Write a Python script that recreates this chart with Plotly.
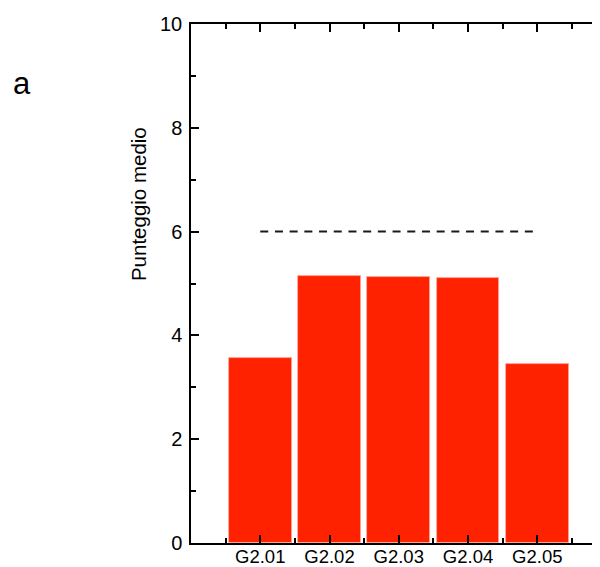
import plotly.graph_objects as go

categories = ["G2.01", "G2.02", "G2.03", "G2.04", "G2.05"]
positions = [1, 2, 3, 4, 5]
scores = [3.56, 5.14, 5.12, 5.11, 3.44]
reference_x = [1, 5]
reference_y = [6, 6]
y_ticks = [0, 2, 4, 6, 8, 10]

FONT = "Liberation Sans, Arial, Helvetica, sans-serif"
RED = "#ff2200"

fig = go.Figure()
fig.add_trace(go.Bar(
    x=positions, y=scores, width=0.905,
    marker=dict(color=RED, line=dict(width=0.8, color="rgba(255,170,160,1)")),
    showlegend=False, hoverinfo="skip",
))
fig.add_trace(go.Scatter(
    x=reference_x, y=reference_y, mode="lines", yaxis="y2",
    line=dict(color="#1a1a1a", width=2, dash="8px,6.7px"),
    showlegend=False, hoverinfo="skip",
))

# the page body has an 8px default margin, so the figure is sized to end at the window edge
fig.update_layout(
    width=592, height=559,
    margin=dict(l=183, r=0, t=16, b=24, autoexpand=False),
    paper_bgcolor="white", plot_bgcolor="white",
    font=dict(family=FONT, size=20, color="black"),
    bargap=0,
    xaxis=dict(
        range=[0, 5.906], tickmode="array", tickvals=positions, ticktext=categories,
        ticks="inside", ticklen=8, tickwidth=1.5, tickcolor="black",
        showline=True, linewidth=1.5, linecolor="black", mirror="ticks",
        showgrid=False, zeroline=False, ticklabelstandoff=-4, automargin=False,
        minor=dict(tickmode="array", tickvals=[0.5, 1.5, 2.5, 3.5, 4.5, 5.5],
                   ticks="inside", ticklen=5, tickwidth=1.5, tickcolor="black"),
        tickfont=dict(size=18.5),
    ),
    yaxis=dict(
        range=[0, 10], tickmode="array", tickvals=y_ticks,
        ticks="inside", ticklen=8, tickwidth=1.5, tickcolor="black",
        showline=True, linewidth=1.5, linecolor="black",
        showgrid=False, zeroline=False, ticklabelstandoff=3, automargin=False,
        minor=dict(dtick=1, ticks="inside", ticklen=5, tickwidth=1.5, tickcolor="black"),
        tickfont=dict(size=20),
    ),
    yaxis2=dict(
        range=[0, 10], overlaying="y", side="right", anchor="free", position=1,
        tickmode="array", tickvals=y_ticks, automargin=False,
        ticks="inside", ticklen=3, tickwidth=1.5, tickcolor="black",
        showticklabels=False, showline=False, showgrid=False, zeroline=False,
    ),
    annotations=[
        dict(text="Punteggio medio", textangle=-90, xref="paper", yref="paper",
             x=-0.1296, y=0.653, xanchor="center", yanchor="middle",
             showarrow=False, font=dict(size=20.5)),
        dict(text="a", xref="paper", yref="paper", x=-0.414, y=0.886,
             xanchor="center", yanchor="middle", showarrow=False,
             font=dict(size=31)),
    ],
)

fig.write_html("out.html")
